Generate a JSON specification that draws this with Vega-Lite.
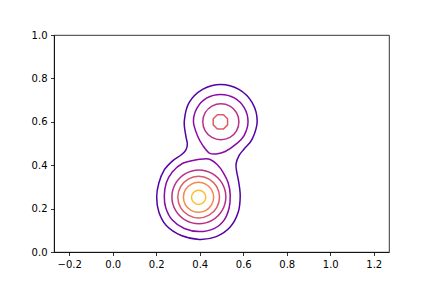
{
  "$schema": "https://vega.github.io/schema/vega-lite/v6.json",
  "width": 335,
  "height": 217,
  "autosize": {"type": "none"},
  "padding": {"left": 54, "top": 35, "right": 43, "bottom": 36},
  "config": {
    "view": {"stroke": "black", "strokeWidth": 0.8},
    "axis": {"domainColor": "black", "domainWidth": 0.8, "tickColor": "black", "tickWidth": 0.8, "tickSize": 3.5, "labelFont": "DejaVu Sans", "labelFontSize": 10, "labelColor": "black", "grid": false, "labelPadding": 3.5, "title": null}
  },
  "datasets": {
    "smooth": [
      {"p":"L1","l":1,"i":0,"x":0.496,"y":0.772},
      {"p":"L1","l":1,"i":1,"x":0.580,"y":0.749},
      {"p":"L1","l":1,"i":2,"x":0.641,"y":0.688},
      {"p":"L1","l":1,"i":3,"x":0.664,"y":0.604},
      {"p":"L1","l":1,"i":4,"x":0.641,"y":0.520},
      {"p":"L1","l":1,"i":5,"x":0.604,"y":0.475},
      {"p":"L1","l":1,"i":6,"x":0.581,"y":0.445},
      {"p":"L1","l":1,"i":7,"x":0.567,"y":0.406},
      {"p":"L1","l":1,"i":8,"x":0.570,"y":0.369},
      {"p":"L1","l":1,"i":9,"x":0.579,"y":0.323},
      {"p":"L1","l":1,"i":10,"x":0.586,"y":0.258},
      {"p":"L1","l":1,"i":11,"x":0.577,"y":0.184},
      {"p":"L1","l":1,"i":12,"x":0.540,"y":0.115},
      {"p":"L1","l":1,"i":13,"x":0.476,"y":0.071},
      {"p":"L1","l":1,"i":14,"x":0.398,"y":0.058},
      {"p":"L1","l":1,"i":15,"x":0.315,"y":0.076},
      {"p":"L1","l":1,"i":16,"x":0.246,"y":0.122},
      {"p":"L1","l":1,"i":17,"x":0.212,"y":0.184},
      {"p":"L1","l":1,"i":18,"x":0.202,"y":0.253},
      {"p":"L1","l":1,"i":19,"x":0.212,"y":0.318},
      {"p":"L1","l":1,"i":20,"x":0.237,"y":0.378},
      {"p":"L1","l":1,"i":21,"x":0.274,"y":0.419},
      {"p":"L1","l":1,"i":22,"x":0.314,"y":0.447},
      {"p":"L1","l":1,"i":23,"x":0.336,"y":0.470},
      {"p":"L1","l":1,"i":24,"x":0.343,"y":0.498},
      {"p":"L1","l":1,"i":25,"x":0.336,"y":0.535},
      {"p":"L1","l":1,"i":26,"x":0.329,"y":0.604},
      {"p":"L1","l":1,"i":27,"x":0.351,"y":0.688},
      {"p":"L1","l":1,"i":28,"x":0.413,"y":0.749},

      {"p":"L2a","l":2,"i":0,"x":0.448,"y":0.426},
      {"p":"L2a","l":2,"i":1,"x":0.480,"y":0.403},
      {"p":"L2a","l":2,"i":2,"x":0.508,"y":0.366},
      {"p":"L2a","l":2,"i":3,"x":0.531,"y":0.318},
      {"p":"L2a","l":2,"i":4,"x":0.540,"y":0.263},
      {"p":"L2a","l":2,"i":5,"x":0.535,"y":0.203},
      {"p":"L2a","l":2,"i":6,"x":0.512,"y":0.147},
      {"p":"L2a","l":2,"i":7,"x":0.466,"y":0.108},
      {"p":"L2a","l":2,"i":8,"x":0.398,"y":0.094},
      {"p":"L2a","l":2,"i":9,"x":0.329,"y":0.108},
      {"p":"L2a","l":2,"i":10,"x":0.274,"y":0.147},
      {"p":"L2a","l":2,"i":11,"x":0.244,"y":0.203},
      {"p":"L2a","l":2,"i":12,"x":0.237,"y":0.258},
      {"p":"L2a","l":2,"i":13,"x":0.246,"y":0.318},
      {"p":"L2a","l":2,"i":14,"x":0.274,"y":0.369},
      {"p":"L2a","l":2,"i":15,"x":0.320,"y":0.408},
      {"p":"L2a","l":2,"i":16,"x":0.379,"y":0.424},
      {"p":"L2a","l":2,"i":17,"x":0.420,"y":0.429},

      {"p":"L2b","l":2,"i":0,"x":0.496,"y":0.726},
      {"p":"L2b","l":2,"i":1,"x":0.559,"y":0.710},
      {"p":"L2b","l":2,"i":2,"x":0.605,"y":0.664},
      {"p":"L2b","l":2,"i":3,"x":0.622,"y":0.601},
      {"p":"L2b","l":2,"i":4,"x":0.605,"y":0.539},
      {"p":"L2b","l":2,"i":5,"x":0.568,"y":0.498},
      {"p":"L2b","l":2,"i":6,"x":0.517,"y":0.463},
      {"p":"L2b","l":2,"i":7,"x":0.476,"y":0.452},
      {"p":"L2b","l":2,"i":8,"x":0.444,"y":0.456},
      {"p":"L2b","l":2,"i":9,"x":0.416,"y":0.488},
      {"p":"L2b","l":2,"i":10,"x":0.391,"y":0.532},
      {"p":"L2b","l":2,"i":11,"x":0.371,"y":0.601},
      {"p":"L2b","l":2,"i":12,"x":0.388,"y":0.664},
      {"p":"L2b","l":2,"i":13,"x":0.433,"y":0.710},

      {"p":"L3a","l":3,"i":0,"x":0.520,"y":0.254},
      {"p":"L3a","l":3,"i":1,"x":0.503,"y":0.316},
      {"p":"L3a","l":3,"i":2,"x":0.458,"y":0.361},
      {"p":"L3a","l":3,"i":3,"x":0.396,"y":0.378},
      {"p":"L3a","l":3,"i":4,"x":0.334,"y":0.361},
      {"p":"L3a","l":3,"i":5,"x":0.289,"y":0.316},
      {"p":"L3a","l":3,"i":6,"x":0.272,"y":0.254},
      {"p":"L3a","l":3,"i":7,"x":0.289,"y":0.192},
      {"p":"L3a","l":3,"i":8,"x":0.334,"y":0.147},
      {"p":"L3a","l":3,"i":9,"x":0.396,"y":0.130},
      {"p":"L3a","l":3,"i":10,"x":0.458,"y":0.147},
      {"p":"L3a","l":3,"i":11,"x":0.503,"y":0.192},

      {"p":"L3b","l":3,"i":0,"x":0.580,"y":0.600},
      {"p":"L3b","l":3,"i":1,"x":0.569,"y":0.642},
      {"p":"L3b","l":3,"i":2,"x":0.539,"y":0.672},
      {"p":"L3b","l":3,"i":3,"x":0.497,"y":0.683},
      {"p":"L3b","l":3,"i":4,"x":0.456,"y":0.672},
      {"p":"L3b","l":3,"i":5,"x":0.425,"y":0.642},
      {"p":"L3b","l":3,"i":6,"x":0.414,"y":0.600},
      {"p":"L3b","l":3,"i":7,"x":0.425,"y":0.558},
      {"p":"L3b","l":3,"i":8,"x":0.456,"y":0.528},
      {"p":"L3b","l":3,"i":9,"x":0.497,"y":0.517},
      {"p":"L3b","l":3,"i":10,"x":0.539,"y":0.528},
      {"p":"L3b","l":3,"i":11,"x":0.569,"y":0.558},

      {"p":"L4a","l":4,"i":0,"x":0.491,"y":0.253},
      {"p":"L4a","l":4,"i":1,"x":0.478,"y":0.301},
      {"p":"L4a","l":4,"i":2,"x":0.443,"y":0.336},
      {"p":"L4a","l":4,"i":3,"x":0.395,"y":0.349},
      {"p":"L4a","l":4,"i":4,"x":0.347,"y":0.336},
      {"p":"L4a","l":4,"i":5,"x":0.312,"y":0.301},
      {"p":"L4a","l":4,"i":6,"x":0.299,"y":0.253},
      {"p":"L4a","l":4,"i":7,"x":0.312,"y":0.205},
      {"p":"L4a","l":4,"i":8,"x":0.347,"y":0.170},
      {"p":"L4a","l":4,"i":9,"x":0.395,"y":0.157},
      {"p":"L4a","l":4,"i":10,"x":0.443,"y":0.170},
      {"p":"L4a","l":4,"i":11,"x":0.478,"y":0.205},

      {"p":"L5","l":5,"i":0,"x":0.464,"y":0.252},
      {"p":"L5","l":5,"i":1,"x":0.454,"y":0.287},
      {"p":"L5","l":5,"i":2,"x":0.429,"y":0.312},
      {"p":"L5","l":5,"i":3,"x":0.394,"y":0.321},
      {"p":"L5","l":5,"i":4,"x":0.360,"y":0.312},
      {"p":"L5","l":5,"i":5,"x":0.334,"y":0.287},
      {"p":"L5","l":5,"i":6,"x":0.325,"y":0.252},
      {"p":"L5","l":5,"i":7,"x":0.334,"y":0.217},
      {"p":"L5","l":5,"i":8,"x":0.360,"y":0.192},
      {"p":"L5","l":5,"i":9,"x":0.394,"y":0.183},
      {"p":"L5","l":5,"i":10,"x":0.429,"y":0.192},
      {"p":"L5","l":5,"i":11,"x":0.454,"y":0.217},

      {"p":"L6","l":6,"i":0,"x":0.428,"y":0.252},
      {"p":"L6","l":6,"i":1,"x":0.418,"y":0.275},
      {"p":"L6","l":6,"i":2,"x":0.395,"y":0.285},
      {"p":"L6","l":6,"i":3,"x":0.372,"y":0.275},
      {"p":"L6","l":6,"i":4,"x":0.362,"y":0.252},
      {"p":"L6","l":6,"i":5,"x":0.372,"y":0.229},
      {"p":"L6","l":6,"i":6,"x":0.395,"y":0.219},
      {"p":"L6","l":6,"i":7,"x":0.418,"y":0.229}
    ],
    "poly": [
      {"p":"L4b","l":4,"i":0,"x":0.528,"y":0.614},
      {"p":"L4b","l":4,"i":1,"x":0.509,"y":0.633},
      {"p":"L4b","l":4,"i":2,"x":0.481,"y":0.633},
      {"p":"L4b","l":4,"i":3,"x":0.462,"y":0.614},
      {"p":"L4b","l":4,"i":4,"x":0.462,"y":0.586},
      {"p":"L4b","l":4,"i":5,"x":0.481,"y":0.567},
      {"p":"L4b","l":4,"i":6,"x":0.509,"y":0.567},
      {"p":"L4b","l":4,"i":7,"x":0.528,"y":0.586}
    ]
  },
  "encoding": {
    "x": {"field": "x", "type": "quantitative", "scale": {"domain": [-0.27, 1.27], "nice": false, "zero": false}, "axis": {"values": [-0.2, 0, 0.2, 0.4, 0.6, 0.8, 1.0, 1.2], "format": ".1f"}},
    "y": {"field": "y", "type": "quantitative", "scale": {"domain": [0, 1], "nice": false, "zero": false}, "axis": {"values": [0, 0.2, 0.4, 0.6, 0.8, 1.0], "format": ".1f"}},
    "color": {"field": "l", "type": "ordinal", "scale": {"domain": [1, 2, 3, 4, 5, 6], "range": ["#5302a3", "#8b0aa5", "#b83289", "#db5c68", "#f48849", "#febd2a"]}, "legend": null},
    "detail": {"field": "p", "type": "nominal"},
    "order": {"field": "i", "type": "quantitative"}
  },
  "layer": [
    {"data": {"name": "smooth"}, "mark": {"type": "line", "interpolate": "cardinal-closed", "strokeWidth": 1.5}},
    {"data": {"name": "poly"}, "mark": {"type": "line", "interpolate": "linear-closed", "strokeWidth": 1.5}}
  ]
}
